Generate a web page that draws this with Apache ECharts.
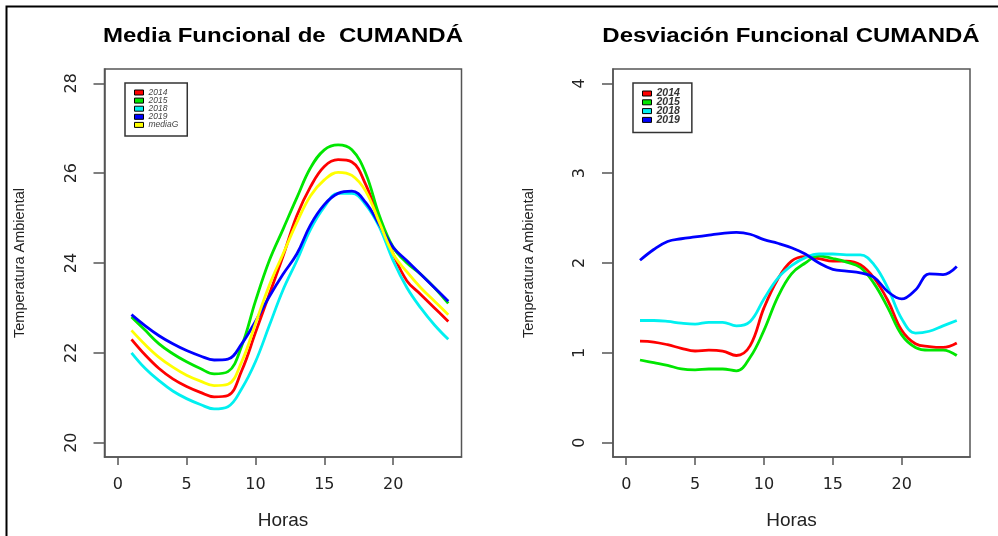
<!DOCTYPE html>
<html>
<head>
<meta charset="utf-8">
<script src="https://cdn.jsdelivr.net/npm/echarts@6/dist/echarts.min.js"></script>
<style>
  html, body { margin: 0; padding: 0; background: #fff; }
  #chart { width: 998px; height: 536px; }
</style>
</head>
<body>
<div id="chart"></div>
<script>
// Hour of day
const hours = [1,2,3,4,5,6,7,8,9,10,11,12,13,14,15,16,17,18,19,20,21,22,23,24];

// Functional mean of ambient temperature per year (°C)
const mean2014 = [22.30,21.95,21.65,21.42,21.25,21.12,21.02,21.05,21.60,22.45,23.30,24.15,25.05,25.70,26.15,26.30,26.25,25.75,24.95,24.20,23.60,23.30,23.00,22.70];
const mean2015 = [22.80,22.50,22.20,21.98,21.80,21.65,21.53,21.58,22.15,23.15,24.05,24.75,25.45,26.12,26.52,26.63,26.52,26.00,25.05,24.35,24.00,23.75,23.45,23.10];
const mean2018 = [22.00,21.65,21.38,21.15,20.98,20.85,20.75,20.80,21.20,21.80,22.60,23.40,24.05,24.75,25.25,25.55,25.55,25.30,24.80,24.05,23.45,23.00,22.62,22.30];
const mean2019 = [22.85,22.60,22.38,22.20,22.05,21.93,21.84,21.86,22.20,22.70,23.25,23.75,24.20,24.85,25.30,25.55,25.60,25.35,24.85,24.35,24.05,23.75,23.45,23.15];
const meanG    = [22.50,22.18,21.90,21.68,21.50,21.37,21.27,21.30,21.80,22.65,23.50,24.20,24.90,25.50,25.85,26.02,25.95,25.60,24.90,24.20,23.80,23.45,23.15,22.85];

// Functional standard deviation per year
const sd2014 = [1.13,1.12,1.09,1.05,1.02,1.03,1.02,0.97,1.08,1.50,1.82,2.02,2.07,2.05,2.02,2.02,1.98,1.83,1.58,1.25,1.10,1.07,1.06,1.11];
const sd2015 = [0.92,0.89,0.86,0.82,0.81,0.82,0.82,0.80,0.95,1.25,1.62,1.88,2.00,2.08,2.05,2.01,1.95,1.77,1.50,1.20,1.06,1.03,1.03,0.97];
const sd2018 = [1.36,1.36,1.35,1.33,1.32,1.34,1.34,1.30,1.35,1.60,1.83,1.97,2.06,2.10,2.10,2.09,2.09,1.98,1.72,1.38,1.22,1.24,1.30,1.36];
const sd2019 = [2.03,2.15,2.24,2.27,2.29,2.31,2.33,2.34,2.32,2.26,2.22,2.17,2.10,2.00,1.93,1.91,1.89,1.84,1.68,1.60,1.70,1.88,1.87,1.96];

// Tick labels
const xTicks = [0, 5, 10, 15, 20];
const yTicksMean = [20, 22, 24, 26, 28];
const yTicksSd = [0, 1, 2, 3, 4];

const colors = { '2014': '#ff0000', '2015': '#00e600', '2018': '#00f0f0', '2019': '#0000ff', 'mediaG': '#ffff00' };

const pairs = vals => vals.map((v, i) => [hours[i], v]);

const chart = echarts.init(document.getElementById('chart'));

const axisColor = '#555';
const labelColor = '#222';
const baseFont = '"Liberation Sans", Arial, sans-serif';
const tickFont = '"DejaVu Sans", sans-serif';

function xAxisFor(gridIndex) {
  return {
    gridIndex, type: 'value', min: -0.96, max: 24.96,
    name: 'Horas', nameLocation: 'middle', nameGap: 54,
    nameTextStyle: { fontFamily: baseFont, fontSize: 19, color: labelColor },
    splitLine: { show: false },
    axisLine: { show: true, onZero: false, lineStyle: { color: axisColor, width: 1.5 } },
    axisTick: { show: true, inside: false, length: 8, customValues: xTicks, lineStyle: { color: axisColor, width: 1.5 } },
    axisLabel: { customValues: xTicks, margin: 20, fontFamily: tickFont, fontSize: 16, color: labelColor }
  };
}
function yAxisFor(gridIndex, min, max, ticks) {
  return {
    gridIndex, type: 'value', min, max,
    name: 'Temperatura Ambiental', nameLocation: 'middle', nameGap: 77, nameRotate: 90,
    nameTextStyle: { fontFamily: baseFont, fontSize: 14.5, color: labelColor },
    splitLine: { show: false },
    axisLine: { show: true, onZero: false, lineStyle: { color: axisColor, width: 1.5 } },
    axisTick: { show: true, inside: false, length: 11, customValues: ticks, lineStyle: { color: axisColor, width: 1.5 } },
    axisLabel: { customValues: ticks, rotate: 90, margin: 33, fontFamily: tickFont, fontSize: 16, color: labelColor, align: 'center', verticalAlign: 'middle' }
  };
}

function lineSeries(name, vals, xi) {
  return {
    name, type: 'line', xAxisIndex: xi, yAxisIndex: xi,
    data: pairs(vals), smooth: 0.4, showSymbol: false, symbol: 'none',
    color: colors[name],
    lineStyle: { color: colors[name], width: 2.8 },
    z: 3
  };
}

const titleStyle = { font: 'bold 20px "Liberation Sans", Arial, sans-serif', fill: '#000', textAlign: 'center', textVerticalAlign: 'middle' };

chart.setOption({
  animation: false,
  backgroundColor: '#fff',
  grid: [
    { left: 104.5, top: 69, width: 357, height: 388, show: true, borderColor: axisColor, borderWidth: 1.5, backgroundColor: 'transparent' },
    { left: 613, top: 69, width: 357, height: 388, show: true, borderColor: axisColor, borderWidth: 1.5, backgroundColor: 'transparent' }
  ],
  legend: [
    { data: ['2014', '2015', '2018', '2019', 'mediaG'], orient: 'vertical', left: 125, top: 83,
      icon: 'rect', itemWidth: 9, itemHeight: 5, itemGap: -0.9,
      padding: [5, 9, 6.5, 9], borderColor: '#333', borderWidth: 1.5, backgroundColor: '#fff',
      itemStyle: { borderColor: '#000', borderWidth: 1 },
      textStyle: { fontFamily: baseFont, fontStyle: 'italic', fontSize: 8.5, color: '#444' },
      selectedMode: false },
    { data: ['2014', '2015', '2018', '2019'], orient: 'vertical', left: 633, top: 83,
      icon: 'rect', itemWidth: 9, itemHeight: 5, itemGap: -2.2,
      padding: [5, 12, 7, 9], borderColor: '#333', borderWidth: 1.5, backgroundColor: '#fff',
      itemStyle: { borderColor: '#000', borderWidth: 1 },
      textStyle: { fontFamily: baseFont, fontStyle: 'italic', fontWeight: 'bold', fontSize: 10.5, color: '#333' },
      selectedMode: false }
  ],
  xAxis: [xAxisFor(0), xAxisFor(1)],
  yAxis: [yAxisFor(0, 19.68, 28.32, yTicksMean), yAxisFor(1, -0.16, 4.16, yTicksSd)],
  series: [
    lineSeries('2014', mean2014, 0),
    lineSeries('2015', mean2015, 0),
    lineSeries('2018', mean2018, 0),
    lineSeries('2019', mean2019, 0),
    lineSeries('mediaG', meanG, 0),
    lineSeries('2014', sd2014, 1),
    lineSeries('2015', sd2015, 1),
    lineSeries('2018', sd2018, 1),
    lineSeries('2019', sd2019, 1)
  ],
  graphic: [
    // panel titles, drawn slightly widened
    { type: 'text', x: 283, y: 36, scaleX: 1.2, style: Object.assign({ text: 'Media Funcional de  CUMANDÁ' }, titleStyle), z: 50 },
    { type: 'text', x: 791, y: 36, scaleX: 1.2, style: Object.assign({ text: 'Desviación Funcional CUMANDÁ' }, titleStyle), z: 50 },
    // outer frame around the figure
    { type: 'rect', shape: { x: 6.5, y: 6.5, width: 1100, height: 600 }, style: { fill: 'none', stroke: '#000', lineWidth: 2 }, silent: true, z: 100 }
  ]
});
</script>
</body>
</html>
